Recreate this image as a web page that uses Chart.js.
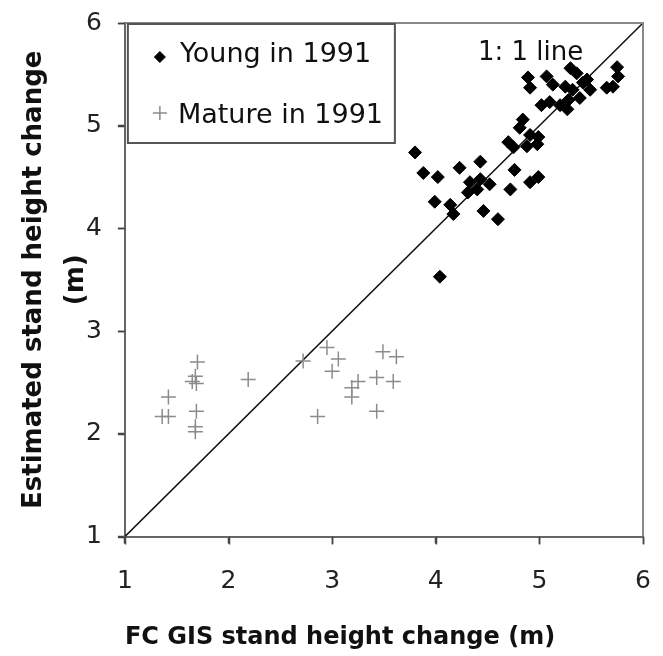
<!DOCTYPE html>
<html>
<head>
    <meta charset="UTF-8">
    <title>Stand height change</title>
    <script src="https://cdn.jsdelivr.net/npm/chart.js"></script>
    <style>
        body {
            margin: 0;
            padding: 0;
            background-color: #fff;
        }
        #chart {
            display: block;
        }
    </style>
</head>
<body>
    <canvas id="chart" width="663" height="656"></canvas>

    <script>
        // Young in 1991 (FC GIS change, estimated change)
        const youngX = [3.80, 3.88, 4.02, 3.99, 4.14, 4.17, 4.23, 4.43, 4.33, 4.43, 4.52, 4.31, 4.40, 4.46, 4.60, 4.72,
                        4.76, 4.91, 4.99, 4.04, 4.70, 4.81, 4.91, 4.99, 4.75, 4.88, 4.98, 4.84, 5.02, 5.10, 5.20, 5.27,
                        4.89, 4.91, 5.07, 5.13, 5.30, 5.36, 5.25, 5.32, 5.42, 5.49, 5.39, 5.28, 5.46, 5.75, 5.76, 5.71, 5.65];
        const youngY = [4.74, 4.54, 4.50, 4.26, 4.23, 4.14, 4.59, 4.65, 4.45, 4.48, 4.43, 4.35, 4.38, 4.17, 4.09, 4.38,
                        4.57, 4.45, 4.50, 3.53, 4.84, 4.98, 4.91, 4.89, 4.79, 4.80, 4.82, 5.06, 5.20, 5.23, 5.20, 5.16,
                        5.47, 5.37, 5.48, 5.40, 5.56, 5.51, 5.38, 5.35, 5.42, 5.35, 5.27, 5.25, 5.45, 5.57, 5.48, 5.38, 5.37];

        // Mature in 1991
        const matureX = [1.70, 1.68, 1.65, 1.69, 1.42, 1.36, 1.42, 1.69, 1.68, 1.68, 2.19, 2.72,
                         2.95, 3.06, 3.00, 2.86, 3.19, 3.25, 3.19, 3.43, 3.59, 3.49, 3.62, 3.43];
        const matureY = [2.70, 2.56, 2.51, 2.49, 2.36, 2.17, 2.17, 2.22, 2.07, 2.02, 2.53, 2.71,
                         2.84, 2.73, 2.61, 2.17, 2.45, 2.51, 2.36, 2.55, 2.51, 2.80, 2.75, 2.22];

        // 1:1 line end points
        const lineX = [1, 6];
        const lineY = [1, 6];

        const tickValues = [1, 2, 3, 4, 5, 6];

        const toPoints = (xs, ys) => xs.map((x, i) => ({x: x, y: ys[i]}));

        Chart.defaults.font.family = 'DejaVu Sans';
        Chart.defaults.color = '#222';

        // frame, tick marks, legend box and the "1: 1 line" note
        const extras = {
            id: 'extras',
            afterDatasetsDraw(chart) {
                const ctx = chart.ctx;
                const a = chart.chartArea;
                const xs = chart.scales.x, ys = chart.scales.y;
                ctx.save();
                ctx.strokeStyle = '#888';
                ctx.lineWidth = 2;
                ctx.beginPath();
                ctx.moveTo(a.left, a.top);
                ctx.lineTo(a.right, a.top);
                ctx.lineTo(a.right, a.bottom);
                ctx.stroke();

                // outward tick marks
                ctx.strokeStyle = '#444';
                ctx.lineWidth = 1.5;
                ctx.beginPath();
                tickValues.forEach(v => {
                    const px = Math.round(xs.getPixelForValue(v)) + 0.5;
                    ctx.moveTo(px, a.bottom);
                    ctx.lineTo(px, a.bottom + 8);
                    const py = Math.round(ys.getPixelForValue(v)) + 0.5;
                    ctx.moveTo(a.left, py);
                    ctx.lineTo(a.left - 7, py);
                });
                ctx.stroke();

                // legend
                const bx = a.left + 3, by = a.top + 1, bw = 267, bh = 119;
                ctx.fillStyle = '#fff';
                ctx.fillRect(bx, by, bw, bh);
                ctx.strokeStyle = '#555';
                ctx.lineWidth = 2;
                ctx.strokeRect(bx, by, bw, bh);

                const ds = chart.data.datasets;
                ctx.fillStyle = ds[0].backgroundColor;
                ctx.strokeStyle = ds[0].borderColor;
                ctx.lineWidth = 1;
                Chart.helpers.drawPoint(ctx, {pointStyle: 'rectRot', radius: 5.5, borderWidth: 1, rotation: 0}, a.left + 35, a.top + 34);
                ctx.strokeStyle = ds[1].borderColor;
                ctx.lineWidth = 1.5;
                Chart.helpers.drawPoint(ctx, {pointStyle: 'cross', radius: 7, borderWidth: 1.5, rotation: 0}, a.left + 35, a.top + 90);

                ctx.fillStyle = '#111';
                ctx.font = '27px "DejaVu Sans"';
                ctx.textBaseline = 'alphabetic';
                ctx.textAlign = 'left';
                ctx.fillText(ds[0].label, a.left + 55, a.top + 39);
                ctx.fillText(ds[1].label, a.left + 53, a.top + 100);

                ctx.font = '26px "DejaVu Sans"';
                ctx.fillText('1: 1 line', 478, a.top + 37);
                ctx.restore();
            }
        };

        new Chart(document.getElementById('chart').getContext('2d'), {
            type: 'scatter',
            data: {
                datasets: [
                    {
                        label: 'Young in 1991',
                        data: toPoints(youngX, youngY),
                        pointStyle: 'rectRot',
                        pointRadius: 6.5,
                        backgroundColor: '#000',
                        borderColor: '#000',
                        borderWidth: 1,
                        order: 1
                    },
                    {
                        label: 'Mature in 1991',
                        data: toPoints(matureX, matureY),
                        pointStyle: 'cross',
                        pointRadius: 7.5,
                        backgroundColor: '#8c8c8c',
                        borderColor: '#8c8c8c',
                        borderWidth: 1.5,
                        order: 2
                    },
                    {
                        type: 'line',
                        label: '1:1 line',
                        data: toPoints(lineX, lineY),
                        borderColor: '#111',
                        borderWidth: 1.5,
                        pointRadius: 0,
                        fill: false,
                        order: 3
                    }
                ]
            },
            options: {
                responsive: false,
                animation: false,
                layout: {
                    padding: {top: 23, right: 20, bottom: 0, left: 0}
                },
                plugins: {
                    legend: {display: false},
                    tooltip: {enabled: false}
                },
                scales: {
                    x: {
                        type: 'linear',
                        min: 1,
                        max: 6,
                        afterBuildTicks: axis => { axis.ticks = tickValues.map(v => ({value: v})); },
                        grid: {drawOnChartArea: false, drawTicks: true, tickLength: 7, color: '#555',
                               tickColor: '#444', tickWidth: 1.5},
                        border: {color: '#666', width: 2},
                        ticks: {font: {size: 25, lineHeight: 2.2}, padding: 10, color: '#222'},
                        title: {
                            display: true,
                            align: 'start',
                            text: 'FC GIS stand height change (m)',
                            color: '#111',
                            font: {size: 24, weight: 'bold'},
                            padding: {top: 5, bottom: 3.6}
                        }
                    },
                    y: {
                        type: 'linear',
                        min: 1,
                        max: 6,
                        afterBuildTicks: axis => { axis.ticks = tickValues.map(v => ({value: v})); },
                        grid: {drawOnChartArea: false, drawTicks: true, tickLength: 7, color: '#555',
                               tickColor: '#444', tickWidth: 1.5},
                        border: {color: '#666', width: 2},
                        ticks: {font: {size: 25, lineHeight: 0.5}, padding: 16, color: '#222'},
                        title: {
                            display: true,
                            text: ['Estimated stand height change', '(m)'],
                            color: '#111',
                            font: {size: 26, weight: 'bold', lineHeight: 1.615},
                            padding: {top: 13, bottom: -27}
                        }
                    }
                }
            },
            plugins: [extras]
        });
    </script>
</body>
</html>
